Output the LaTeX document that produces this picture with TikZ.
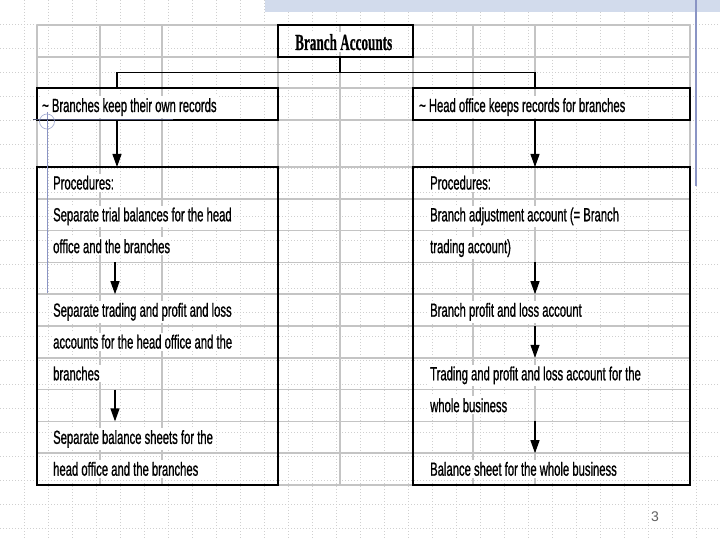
\documentclass[tikz,border=0pt]{standalone}
\usepackage{fontspec}
\setmainfont{Liberation Sans}
\newfontfamily\bodyfont{Liberation Sans}[RawFeature={embolden=1.2}]
\newfontfamily\titlefont{Liberation Serif}[RawFeature={embolden=0.8}]
\usetikzlibrary{arrows.meta}
\definecolor{tablegray}{HTML}{C4C4C4}
\definecolor{dotgray}{HTML}{CFCFCF}
\definecolor{bandblue}{HTML}{D2DBEC}
\definecolor{decoblue}{HTML}{8A94C4}
\definecolor{decodark}{HTML}{4A5070}
\definecolor{numgray}{HTML}{606060}
\newcommand\nt[1]{\scalebox{0.593}[1]{#1}}
\newcommand\ttl[1]{\scalebox{0.573}[1]{#1}}
\begin{document}
\begin{tikzpicture}[x=1pt,y=-1pt,
  box/.style={draw=black,line width=1.4pt,inner sep=0pt,outer sep=0pt},
  txt/.style={anchor=base west,inner xsep=1pt,inner ysep=2pt,fill=white,font=\fontsize{19}{22}\bodyfont},
  conn/.style={draw=black,line width=1.4pt},
  arr/.style={draw=black,line width=1.2pt,-{Triangle[width=9pt,length=13pt]}},
  tgrid/.style={draw=tablegray,line width=1.5pt},
  dots/.style={draw=dotgray,line width=0.6pt,dash pattern=on 1pt off 2pt}]

\useasboundingbox (0,0) rectangle (720,540);
\fill[white] (0,0) rectangle (720,540);

% editor dotted grid
\foreach \k in {1,...,29}
  \draw[dots] (24*\k+0.5,0) -- (24*\k+0.5,540);
\foreach \k in {1,...,22}
  \draw[dots] (0,24*\k) -- (720,24*\k);

% table grid behind
\foreach \y in {25,57,88,120,167,198.8,230.6,262.4,294.2,326,357.8,389.6,421.4,453.2,485}
  \draw[tgrid] (37,\y) -- (690,\y);
\foreach \x in {37,100,162,278,340,413,473,535,690}
  \draw[tgrid] (\x,25) -- (\x,485);

% boxes
\node[box,minimum width=135pt,minimum height=32pt] (title) at (345.5,41) {};
\node[box,minimum width=241pt,minimum height=32pt] (hl) at (157.5,104) {};
\node[box,minimum width=277pt,minimum height=32pt] (hr) at (551.5,104) {};
\node[box,minimum width=241pt,minimum height=318pt] (bl) at (157.5,326) {};
\node[box,minimum width=277pt,minimum height=318pt] (br) at (551.5,326) {};

% texts
\node[txt,font=\fontsize{23}{26}\titlefont\bfseries] (tt) at (294,50) {\ttl{Branch Accounts}};
\node[txt] (hlt) at (41,112) {\nt{\textasciitilde{} Branches keep their own records}};
\node[txt] (hrt) at (418,112) {\nt{\textasciitilde{} Head office keeps records for branches}};

\node[txt] (l0) at (52,189.5) {\nt{Procedures:}};
\node[txt] (l1) at (52,221.3) {\nt{Separate trial balances for the head}};
\node[txt] (l2) at (52,253.1) {\nt{office and the branches}};
\node[txt] (l4) at (52,316.7) {\nt{Separate trading and profit and loss}};
\node[txt] (l5) at (52,348.5) {\nt{accounts for the head office and the}};
\node[txt] (l6) at (52,380.3) {\nt{branches}};
\node[txt] (l8) at (52,443.9) {\nt{Separate balance sheets for the}};
\node[txt] (l9) at (52,475.7) {\nt{head office and the branches}};

\node[txt] (r0) at (429,189.5) {\nt{Procedures:}};
\node[txt] (r1) at (429,221.3) {\nt{Branch adjustment account (= Branch}};
\node[txt] (r2) at (429,253.1) {\nt{trading account)}};
\node[txt] (r4) at (429,316.7) {\nt{Branch profit and loss account}};
\node[txt] (r6) at (429,380.3) {\nt{Trading and profit and loss account for the}};
\node[txt] (r7) at (429,412.1) {\nt{whole business}};
\node[txt] (r9) at (429,475.7) {\nt{Balance sheet for the whole business}};

% connectors
\coordinate (j) at (340,72.5);
\coordinate (jl) at (117,72.5);
\coordinate (jr) at (535,72.5);
\draw[conn] (title.south -| j) -- (j);
\draw[conn,line join=miter] (hl.north -| jl) -- (jl) -- (jr) -- (hr.north -| jr);
\draw[arr] (hl.south -| jl) -- (bl.north -| jl);
\draw[arr] (hr.south -| jr) -- (br.north -| jr);

% inner arrows
\coordinate (la1) at (115,262.4); \coordinate (lb1) at (115,294.2);
\coordinate (la2) at (115,389.6); \coordinate (lb2) at (115,421.4);
\coordinate (ra1) at (535,262.4); \coordinate (rb1) at (535,294.2);
\coordinate (ra2) at (535,326);   \coordinate (rb2) at (535,357.8);
\coordinate (ra3) at (535,421.4); \coordinate (rb3) at (535,453.2);
\draw[arr] (la1) -- (lb1);
\draw[arr] (la2) -- (lb2);
\draw[arr] (ra1) -- (rb1);
\draw[arr] (ra2) -- (rb2);
\draw[arr] (ra3) -- (rb3);

% slide number
\node[font=\fontsize{14}{16}\selectfont,text=numgray] (num) at (655,517) {3};

% decorations
\fill[bandblue] (265,0) rectangle (720,12.5);
\draw[decoblue,line width=0.8pt] (47,112) -- (47,293);
\draw[decodark,line width=0.8pt] (33,119) -- (173,119);
\draw[decoblue!80,line width=0.6pt] (47,121.5) circle[radius=7.5];
\draw[decoblue,line width=1.5pt] (696,0) -- (696,186);
\end{tikzpicture}
\end{document}
